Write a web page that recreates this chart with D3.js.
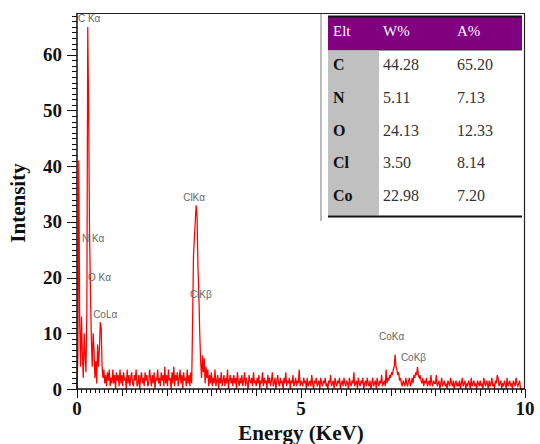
<!DOCTYPE html>
<html>
<head>
<meta charset="utf-8">
<script src="https://cdn.jsdelivr.net/npm/d3@7"></script>
<style>
  html, body { margin: 0; padding: 0; background: #fff; }
  svg { display: block; }
</style>
</head>
<body>
<svg id="chart" width="540" height="444"></svg>
<script>
// ---------------- DATA ----------------
const energyStart = 0;      // keV
const energyStep = 0.02;    // keV between samples
// EDS counts, one row per 0.5 keV
const counts = [
  0, 6, 41, 12, 4, 13, 6, 2, 10, 6, 3, 14, 65, 50, 28, 18, 9, 4, 10, 7, 2, 5, 1, 8, 4,
  7, 12, 11, 4, 2, 3.5, 1, 2.5, 0.5, 3, 1.5, 3.5, 0.5, 2, 1, 3.5, 1, 2.5, 0, 3, 1.5, 2.5, 0.5, 3.5, 1,
  2.5, 0.5, 3, 1.5, 2, 0, 3.5, 1, 2.5, 0.5, 2, 3, 1, 0.5, 2.5, 1.5, 3.5, 0.5, 1, 2.5, 0, 2, 3, 1, 2,
  0.5, 3, 1.5, 2.5, 0.5, 1, 3.5, 2, 0.5, 2.5, 1, 3, 0, 2, 1.5, 3.5, 1, 2, 0.5, 3, 1.5, 2.5, 0.5, 4, 1,
  2.5, 0.5, 3.5, 1.5, 2, 0, 3, 1, 4, 0.5, 2.5, 1.5, 3, 0.5, 2, 3.5, 1, 2.5, 0, 3, 1.5, 2, 0.5, 3.5, 1,
  2.5, 0.5, 3, 1, 12, 24, 27, 30, 33, 31, 22, 17, 10, 5, 2, 6, 3, 5.5, 1, 4, 2, 3.5, 0.5, 2.5, 1,
  3, 0.5, 2, 1, 3.5, 0.5, 1.5, 2.5, 0, 2, 1, 3, 0.5, 1.5, 2.5, 0.5, 2, 1, 3.5, 0, 1.5, 2.5, 1, 2, 0.5,
  2.5, 1, 2, 0, 3, 1.5, 0.5, 2, 1, 2.5, 0.5, 1.5, 3, 0.5, 2, 1, 0, 2.5, 1.5, 1, 2, 0.5, 3, 1, 1.5,
  0.5, 2, 1, 2.5, 0, 1.5, 1, 3, 0.5, 2, 1, 1.5, 0, 2.5, 1, 2, 0.5, 1.5, 3, 0.5, 1, 2, 0, 1.5, 2.5,
  1, 0.5, 2, 1, 1.5, 0, 2, 1, 3, 0.5, 1.5, 1, 2, 0, 1.5, 1, 2.5, 0.5, 1, 2, 0.5, 1.5, 1, 3.5, 0.5,
  1.5, 1, 0.5, 2, 1, 1.5, 0, 2, 0.5, 1, 1.5, 0.5, 2.5, 1, 0, 1.5, 1, 2, 0.5, 1, 1.5, 0, 2, 1, 0.5,
  1.5, 1, 2, 0.5, 1, 0, 1.5, 1, 2.5, 0.5, 1, 1.5, 0, 2, 1, 0.5, 1.5, 1, 2, 0, 1, 1.5, 0.5, 2, 1,
  0.5, 1.5, 1, 0, 2, 1, 0.5, 1.5, 1, 3, 0.5, 1, 1.5, 0, 2, 1, 0.5, 1.5, 1, 2, 0, 1, 1.5, 0.5, 2,
  1, 0.5, 1.5, 0, 1, 2, 0.5, 1, 1.5, 0, 2, 1, 0.5, 1.5, 1, 2.5, 0.5, 1, 1.5, 0.5, 3.5, 1, 2, 1.5, 2.5,
  2, 3, 2.5, 3.5, 4, 6.2, 4, 3.5, 2.5, 3, 1.5, 2, 1, 0.5, 1.5, 1, 0.5, 2, 1, 0.5, 1.5, 2, 0.5, 1, 2,
  1, 2.5, 2, 3, 2.5, 4, 2.5, 2, 2.5, 1.5, 1, 2, 0.5, 1.5, 1, 2, 0.5, 1, 1.5, 0.5, 2.5, 1, 0.5, 1.5, 1,
  1, 2.5, 0.5, 1, 1.5, 0, 1, 2, 0.5, 1, 1.5, 0.5, 1, 0, 1.5, 1, 0.5, 2, 1, 0.5, 1.5, 0, 1, 1.5, 0.5,
  1, 0.5, 1.5, 0, 1, 2, 0.5, 1, 1.5, 0, 1, 0.5, 1.5, 1, 0, 2, 0.5, 1, 1.5, 0.5, 1, 0, 1.5, 1, 0.5,
  1.5, 0.5, 1, 0, 2, 1, 0.5, 1.5, 1, 0, 1.5, 0.5, 1, 2, 0.5, 1, 0, 1.5, 1, 2.5, 2, 0.5, 1, 1.5, 0,
  1, 0.5, 1.5, 1, 0, 2, 0.5, 1, 1.5, 0.5, 1, 0, 1.5, 1, 0.5, 2, 1, 0.5, 1, 1.5, 0, 0, 0, 0, 0
];

// peak annotations (data coordinates of the label's left/middle)
const peakLabels   = ["C Kα", "N Kα", "O Kα", "CoLα", "ClKα", "ClKβ", "CoKα", "CoKβ"];
const peakLabelE   = [0.02, 0.11, 0.245, 0.36, 2.37, 2.52, 6.74, 7.23];
const peakLabelI   = [66.6, 27.1, 20.1, 13.3, 34.3, 16.9, 9.5, 5.7];

// axis ticks
const yTickValues = [0, 10, 20, 30, 40, 50, 60];
const xTickValues = [0, 5, 10];

// composition table
const tableHeader = ["Elt", "W%", "A%"];
const elements    = ["C", "N", "O", "Cl", "Co"];
const weightPct   = ["44.28", "5.11", "24.13", "3.50", "22.98"];
const atomicPct   = ["65.20", "7.13", "12.33", "8.14", "7.20"];

// ---------------- DRAW ----------------
(function () {
const svg = d3.select("#chart");
const pL = 77, pR = 525, pT = 13, pB = 389;

const x = d3.scaleLinear().domain([0, 10]).range([pL, pR]);
const y = d3.scaleLinear().domain([0, 67.5]).range([pB, pT]);

const serif = "'Liberation Serif', 'Times New Roman', serif";

// table
const tX0 = 328, tX1 = 522, colElt = 333, colW = 383, colA = 457;
const tg = svg.append("g");
tg.append("line").attr("x1", 321).attr("x2", 321).attr("y1", pT).attr("y2", 221)
  .attr("stroke", "#777").attr("stroke-width", 1);
tg.append("rect").attr("x", tX0).attr("y", 16).attr("width", tX1 - tX0).attr("height", 34)
  .attr("fill", "#800080");
tg.append("line").attr("x1", tX0).attr("x2", tX1).attr("y1", 16.5).attr("y2", 16.5)
  .attr("stroke", "#111").attr("stroke-width", 2);
tg.append("line").attr("x1", tX0).attr("x2", tX1).attr("y1", 50).attr("y2", 50)
  .attr("stroke", "#333").attr("stroke-width", 1);
tg.append("rect").attr("x", tX0).attr("y", 50.5).attr("width", colW - 4 - tX0).attr("height", 165)
  .attr("fill", "#c0c0c0");
tg.append("line").attr("x1", tX0).attr("x2", tX1).attr("y1", 216.5).attr("y2", 216.5)
  .attr("stroke", "#111").attr("stroke-width", 2);

const headerX = [colElt, colW, colA];
tg.selectAll("text.hdr").data(tableHeader).join("text")
  .attr("class", "hdr")
  .attr("x", (d, i) => headerX[i]).attr("y", 33)
  .attr("dominant-baseline", "middle")
  .attr("font-family", serif).attr("font-size", 15).attr("fill", "#fff")
  .text(d => d);

const rowY = d3.scaleBand().domain(elements).range([46, 210]).paddingInner(0);
elements.forEach((el, i) => {
  const cy = rowY(el) + rowY.bandwidth() / 2 + 4;
  tg.append("text").attr("x", colElt).attr("y", cy).attr("dominant-baseline", "middle")
    .attr("font-family", serif).attr("font-weight", "bold").attr("font-size", 16).attr("fill", "#111")
    .text(el);
  tg.append("text").attr("x", colW).attr("y", cy).attr("dominant-baseline", "middle")
    .attr("font-family", serif).attr("font-size", 16).attr("fill", "#333")
    .text(weightPct[i]);
  tg.append("text").attr("x", colA).attr("y", cy).attr("dominant-baseline", "middle")
    .attr("font-family", serif).attr("font-size", 16).attr("fill", "#333")
    .text(atomicPct[i]);
});

// spectrum
const pts = counts.map((c, i) => [energyStart + i * energyStep, c]);
const line = d3.line().x(d => x(d[0])).y(d => y(d[1]));
svg.append("path").datum(pts).attr("d", line)
  .attr("fill", "none").attr("stroke", "#ff0000").attr("stroke-width", 1.25)
  .attr("stroke-linejoin", "miter");

// frame
svg.append("line").attr("x1", pL).attr("x2", pR).attr("y1", pT + 0.5).attr("y2", pT + 0.5)
  .attr("stroke", "#222").attr("stroke-width", 1.2);
svg.append("line").attr("x1", pR - 0.5).attr("x2", pR - 0.5).attr("y1", pT).attr("y2", pB)
  .attr("stroke", "#222").attr("stroke-width", 1.2);

// y axis
const yMinor = d3.range(0, 68, 1);
const yAxis = svg.append("g");
yAxis.append("line").attr("x1", pL).attr("x2", pL).attr("y1", pT).attr("y2", pB)
  .attr("stroke", "#111").attr("stroke-width", 1.5);
yAxis.selectAll("line.ymin").data(yMinor).join("line").attr("class", "ymin")
  .attr("x1", d => d % 10 === 0 ? pL - 10 : pL - 5).attr("x2", pL)
  .attr("y1", d => Math.round(y(d)) + 0.5).attr("y2", d => Math.round(y(d)) + 0.5)
  .attr("stroke", "#111").attr("stroke-width", 1);
yAxis.selectAll("text").data(yTickValues).join("text")
  .attr("x", pL - 15).attr("y", d => y(d)).attr("text-anchor", "end")
  .attr("dominant-baseline", "central")
  .attr("font-family", serif).attr("font-weight", "bold").attr("font-size", 19).attr("fill", "#111")
  .text(d => d);

// x axis
const xMinor = d3.range(0, 101, 1).map(d => d / 10);
const xAxis = svg.append("g");
xAxis.append("line").attr("x1", pL).attr("x2", pR).attr("y1", pB).attr("y2", pB)
  .attr("stroke", "#111").attr("stroke-width", 1.5);
xAxis.selectAll("line.xmin").data(xMinor).join("line").attr("class", "xmin")
  .attr("x1", d => Math.round(x(d)) + 0.5).attr("x2", d => Math.round(x(d)) + 0.5)
  .attr("y1", pB)
  .attr("y2", (d, i) => i % 50 === 0 ? pB + 9 : (i % 10 === 0 ? pB + 7 : pB + 4))
  .attr("stroke", "#111").attr("stroke-width", 1);
xAxis.selectAll("text").data(xTickValues).join("text")
  .attr("x", d => x(d)).attr("y", 408).attr("text-anchor", "middle")
  .attr("dominant-baseline", "central")
  .attr("font-family", serif).attr("font-weight", "bold").attr("font-size", 19).attr("fill", "#111")
  .text(d => d);

// peak labels
svg.selectAll("text.peak").data(peakLabels).join("text").attr("class", "peak")
  .attr("x", (d, i) => x(peakLabelE[i])).attr("y", (d, i) => y(peakLabelI[i]))
  .attr("dominant-baseline", "central")
  .attr("font-family", "'Liberation Sans', Arial, sans-serif").attr("font-size", 10)
  .attr("fill", "#666")
  .text(d => d);

// axis titles
svg.append("text").attr("x", x(5)).attr("y", 433).attr("text-anchor", "middle")
  .attr("dominant-baseline", "central")
  .attr("font-family", serif).attr("font-weight", "bold").attr("font-size", 21).attr("fill", "#111")
  .text("Energy (KeV)");
svg.append("text").attr("transform", "translate(18,203) rotate(-90)").attr("text-anchor", "middle")
  .attr("dominant-baseline", "central")
  .attr("font-family", serif).attr("font-weight", "bold").attr("font-size", 21).attr("fill", "#111")
  .text("Intensity");
})();
</script>
</body>
</html>
